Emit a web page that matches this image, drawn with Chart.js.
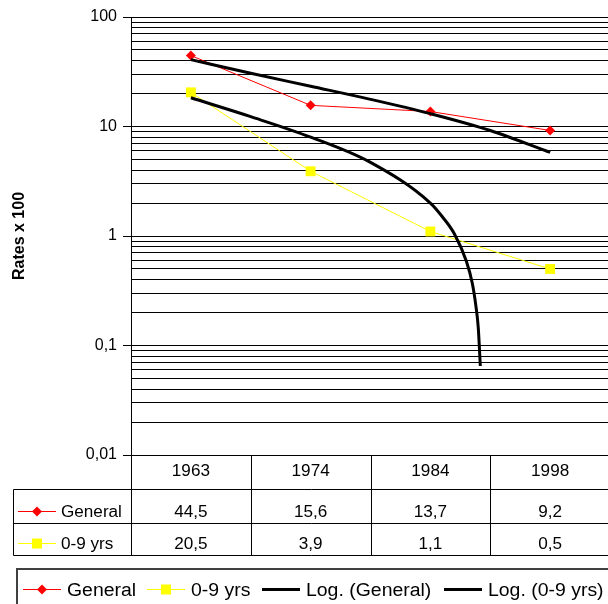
<!DOCTYPE html>
<html>
<head>
<meta charset="utf-8">
<script src="https://cdn.jsdelivr.net/npm/chart.js@4.4.1/dist/chart.umd.min.js"></script>
<style>
  html, body { margin: 0; padding: 0; background: #fff; overflow: hidden; }
  #wrap { width: 608px; height: 604px; overflow: hidden; position: relative; }
  canvas { display: block; position: absolute; left: 0; top: 0; }
</style>
</head>
<body>
<div id="wrap"><canvas id="chart" width="617" height="604"></canvas></div>
<script>
const years = ['1963', '1974', '1984', '1998']
const general = [44.5, 15.6, 13.7, 9.2]
const youth = [20.5, 3.9, 1.1, 0.5]
const seriesNames = ['General', '0-9 yrs']
const trendNames = ['Log. (General)', 'Log. (0-9 yrs)']

// log trend lines (x: 1 = 1963 ... 4 = 1998)
const trendGeneralX = [1, 1.5, 2, 2.5, 3, 3.5, 4]
const trendGeneral = [40.8, 30.6, 23.3, 17.7, 13.1, 9.2, 5.8]
const trendYouthX = [1, 1.5, 2, 2.5, 3, 3.1, 3.2, 3.3, 3.35, 3.38, 3.4, 3.417]
const trendYouth = [18.3, 12.3, 8.0, 4.7, 2.0, 1.5, 1.05, 0.59, 0.37, 0.23, 0.145, 0.065]

const yDecades = [0.01, 0.1, 1, 10, 100]
const yLabels = ['0,01', '0,1', '1', '10', '100']

const RED = '#ff0000'
const YELLOW = '#ffff00'
const FONT = '"Liberation Sans", Arial, sans-serif'

const isDecade = v => yDecades.some(d => Math.abs(v - d) < d * 1e-6)

function drawMarker(ctx, style, x, y, color) {
  ctx.fillStyle = color
  ctx.beginPath()
  if (style === 'diamond') {
    ctx.moveTo(x, y - 5); ctx.lineTo(x + 5, y); ctx.lineTo(x, y + 5); ctx.lineTo(x - 5, y)
  } else {
    ctx.rect(x - 5, y - 5, 10, 10)
  }
  ctx.closePath()
  ctx.fill()
}

function drawKey(ctx, x, y, color, width, marker) {
  ctx.strokeStyle = color
  ctx.lineWidth = width
  ctx.beginPath()
  ctx.moveTo(x, y); ctx.lineTo(x + 38, y)
  ctx.stroke()
  if (marker) drawMarker(ctx, marker, x + 19, y, color)
}

function stretchText(ctx, text, x, y, align, sx) {
  ctx.save()
  ctx.translate(x, y)
  ctx.scale(sx, 1)
  ctx.textAlign = align
  ctx.fillText(text, 0, 0)
  ctx.restore()
}

const fmt = v => String(v).replace('.', ',')

const tablePlugin = {
  id: 'dataTable',
  afterDraw(chart) {
    const { ctx, chartArea: area } = chart
    const x = chart.scales.x
    const rowLines = [489.5, 523.5, 555.5]
    ctx.save()
    ctx.strokeStyle = '#000'
    ctx.lineWidth = 1
    ctx.beginPath()
    rowLines.forEach(y => { ctx.moveTo(13.5, y); ctx.lineTo(area.right, y) })
    ctx.moveTo(13.5, rowLines[0]); ctx.lineTo(13.5, rowLines[2])
    for (let i = 0; i <= years.length; i++) {
      const px = Math.round(x.getPixelForValue(i + 0.5)) + 0.5
      ctx.moveTo(px, area.bottom); ctx.lineTo(px, rowLines[2])
    }
    ctx.stroke()

    ctx.fillStyle = '#000'
    ctx.font = '16px ' + FONT
    ctx.textBaseline = 'alphabetic'
    years.forEach((yr, i) => stretchText(ctx, yr, x.getPixelForValue(i + 1), 476, 'center', 1.07))
    general.forEach((v, i) => stretchText(ctx, fmt(v), x.getPixelForValue(i + 1), 517, 'center', 1.07))
    youth.forEach((v, i) => stretchText(ctx, fmt(v), x.getPixelForValue(i + 1), 549, 'center', 1.07))

    drawKey(ctx, 18, 511.5, RED, 1, 'diamond')
    drawKey(ctx, 18, 543.5, YELLOW, 1, 'square')
    ctx.fillStyle = '#000'
    stretchText(ctx, seriesNames[0], 61, 517, 'left', 1.07)
    stretchText(ctx, seriesNames[1], 61, 549, 'left', 1.07)

    // legend box
    ctx.strokeStyle = '#404040'
    ctx.lineWidth = 2
    ctx.strokeRect(17, 569, 700, 100)
    const keys = [
      { x: 23, color: RED, width: 1, marker: 'diamond', text: seriesNames[0] },
      { x: 147, color: YELLOW, width: 1, marker: 'square', text: seriesNames[1] },
      { x: 262, color: '#000', width: 3, marker: null, text: trendNames[0] },
      { x: 444, color: '#000', width: 3, marker: null, text: trendNames[1] }
    ]
    ctx.font = '18px ' + FONT
    keys.forEach(k => {
      drawKey(ctx, k.x, 589.5, k.color, k.width, k.marker)
      ctx.fillStyle = '#000'
      stretchText(ctx, k.text, k.x + 44, 596, 'left', 1.08)
    })
    ctx.restore()
  }
}

new Chart(document.getElementById('chart'), {
  type: 'line',
  data: {
    datasets: [{
      label: seriesNames[0],
      data: general.map((v, i) => ({ x: i + 1, y: v })),
      borderColor: RED,
      backgroundColor: RED,
      borderWidth: 1,
      pointStyle: 'rectRot',
      pointRadius: 5,
      pointBorderWidth: 0,
      order: 1
    }, {
      label: seriesNames[1],
      data: youth.map((v, i) => ({ x: i + 1, y: v })),
      borderColor: YELLOW,
      backgroundColor: YELLOW,
      borderWidth: 1,
      pointStyle: 'rect',
      pointRadius: 7,
      pointBorderWidth: 0,
      order: 1
    }, {
      label: trendNames[0],
      data: trendGeneralX.map((t, i) => ({ x: t, y: trendGeneral[i] })),
      borderColor: '#000',
      borderWidth: 3,
      pointRadius: 0,
      cubicInterpolationMode: 'monotone',
      order: 0
    }, {
      label: trendNames[1],
      data: trendYouthX.map((t, i) => ({ x: t, y: trendYouth[i] })),
      borderColor: '#000',
      borderWidth: 3,
      pointRadius: 0,
      cubicInterpolationMode: 'monotone',
      order: 0
    }]
  },
  options: {
    responsive: false,
    animation: false,
    layout: { padding: { left: 5, top: 17, right: 1, bottom: 149 } },
    plugins: { legend: { display: false }, tooltip: { enabled: false } },
    scales: {
      x: { type: 'linear', min: 0.5, max: 4.5, display: false },
      y: {
        type: 'logarithmic',
        min: 0.01,
        max: 100,
        afterBuildTicks: scale => {
          const vals = []
          yDecades.slice(0, -1).forEach(d => { for (let m = 1; m < 10; m++) vals.push(m * d) })
          vals.push(yDecades[yDecades.length - 1])
          scale.ticks = vals.map(v => ({ value: v, major: isDecade(v) }))
        },
        afterFit: scale => { scale.width = 126 },
        ticks: {
          autoSkip: false,
          padding: 6,
          color: '#000',
          font: { family: FONT, size: 16 },
          callback: v => {
            const i = yDecades.findIndex(d => Math.abs(v - d) < d * 1e-6)
            return i >= 0 ? yLabels[i] : ''
          }
        },
        grid: {
          color: '#000',
          lineWidth: 1,
          tickLength: 8,
          tickColor: c => (c.tick && c.tick.major ? '#000' : 'rgba(0,0,0,0)')
        },
        border: { color: '#000', width: 1 },
        title: {
          display: true,
          text: 'Rates x 100',
          color: '#000',
          font: { family: FONT, size: 16, weight: 'bold' },
          padding: { top: 5, bottom: 4 }
        }
      }
    }
  },
  plugins: [tablePlugin]
})
</script>
</body>
</html>
